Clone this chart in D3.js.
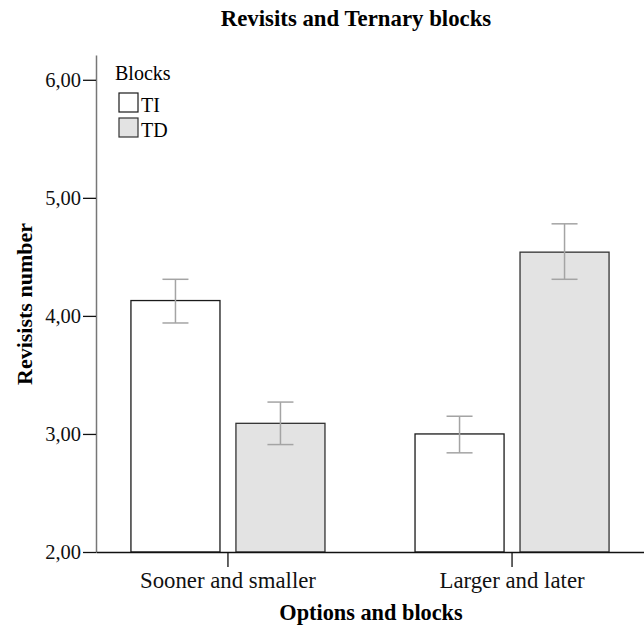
<!DOCTYPE html>
<html>
<head>
<meta charset="utf-8">
<script src="https://cdn.jsdelivr.net/npm/d3@7"></script>
<style>
  body { margin: 0; background: #fff; }
  text { font-family: "Liberation Serif", "Times New Roman", serif; }
</style>
</head>
<body>
<div id="chart"></div>
<script>
// data
const categories = ["Sooner and smaller", "Larger and later"];
const blocks = ["TI", "TD"];
const means = {
	"Sooner and smaller": [4.13, 3.09],
	"Larger and later": [3.00, 4.54]
};
const errLow = {
	"Sooner and smaller": [3.94, 2.91],
	"Larger and later": [2.84, 4.31]
};
const errHigh = {
	"Sooner and smaller": [4.31, 3.27],
	"Larger and later": [3.15, 4.78]
};
const yTicks = [2, 3, 4, 5, 6];

const width = 644, height = 626;
const plotLeft = 96, plotRight = 644, plotTop = 55, plotBottom = 552;

const fills = d3.scaleOrdinal().domain(blocks).range(["#ffffff", "#e3e3e3"]);
const strokes = d3.scaleOrdinal().domain(blocks).range(["#1a1a1a", "#333333"]);

const svg = d3.select("#chart").append("svg")
	.attr("width", width)
	.attr("height", height);

const y = d3.scaleLinear()
	.domain([2, 6.21])
	.range([plotBottom, plotTop]);

const x0 = d3.scaleBand()
	.domain(categories)
	.range([plotLeft, plotRight])
	.paddingInner(0.317)
	.paddingOuter(0.123);

const x1 = d3.scaleBand()
	.domain(blocks)
	.range([0, x0.bandwidth()])
	.paddingInner(0.152);

const comma = d3.formatLocale({decimal: ",", thousands: ".", grouping: [3], currency: ["", ""]}).format(".2f");

// bars
const groups = svg.append("g")
	.selectAll("g")
	.data(categories)
	.join("g")
	.attr("transform", d => `translate(${x0(d)},0)`);

groups.selectAll("rect")
	.data(c => blocks.map((b, i) => ({cat: c, block: b, value: means[c][i]})))
	.join("rect")
	.attr("x", d => x1(d.block))
	.attr("y", d => y(d.value))
	.attr("width", x1.bandwidth())
	.attr("height", d => y(2) - y(d.value))
	.attr("fill", d => fills(d.block))
	.attr("stroke", d => strokes(d.block))
	.attr("stroke-width", 1.3);

// error bars
const err = groups.selectAll("g.err")
	.data(c => blocks.map((b, i) => ({block: b, lo: errLow[c][i], hi: errHigh[c][i]})))
	.join("g")
	.attr("class", "err")
	.attr("transform", d => `translate(${x1(d.block) + x1.bandwidth() / 2},0)`)
	.attr("stroke", "#a4a4a4")
	.attr("stroke-width", 1.5);

err.append("line")
	.attr("y1", d => y(d.lo))
	.attr("y2", d => y(d.hi));
err.append("line")
	.attr("x1", -13).attr("x2", 13)
	.attr("y1", d => y(d.hi)).attr("y2", d => y(d.hi));
err.append("line")
	.attr("x1", -13).attr("x2", 13)
	.attr("y1", d => y(d.lo)).attr("y2", d => y(d.lo));

// y axis
const yAxis = svg.append("g")
	.attr("transform", `translate(${plotLeft},0)`)
	.call(d3.axisLeft(y).tickValues(yTicks).tickFormat(comma).tickSize(13).tickSizeOuter(0).tickPadding(2));
yAxis.select(".domain").attr("stroke", "#777").attr("stroke-width", 1.5);
yAxis.selectAll(".tick line").attr("stroke", "#111").attr("stroke-width", 1.3);
yAxis.selectAll(".tick text")
	.attr("fill", "#111")
	.style("font-size", "20.5px")
	.style("font-family", "Liberation Serif");

// x axis
const xAxis = svg.append("g")
	.attr("transform", `translate(0,${plotBottom})`)
	.call(d3.axisBottom(x0).tickSize(15).tickSizeOuter(0).tickPadding(5));
xAxis.select(".domain").attr("stroke", "#111").attr("stroke-width", 1.3);
xAxis.selectAll(".tick line").attr("stroke", "#111").attr("stroke-width", 1.3);
xAxis.selectAll(".tick text")
	.attr("fill", "#111")
	.style("font-size", "22.8px")
	.style("font-family", "Liberation Serif");

// titles
svg.append("text")
	.attr("x", 356)
	.attr("y", 26)
	.attr("text-anchor", "middle")
	.style("font-size", "22.8px")
	.style("font-weight", "bold")
	.text("Revisits and Ternary blocks");

svg.append("text")
	.attr("x", 371)
	.attr("y", 620)
	.attr("text-anchor", "middle")
	.style("font-size", "22.3px")
	.style("font-weight", "bold")
	.text("Options and blocks");

svg.append("text")
	.attr("transform", "translate(32,304) rotate(-90)")
	.attr("text-anchor", "middle")
	.style("font-size", "22px")
	.style("font-weight", "bold")
	.text("Revisists number");

// legend
const legend = svg.append("g").attr("transform", "translate(115,80)");
legend.append("text")
	.attr("x", 0)
	.attr("y", 0)
	.style("font-size", "20px")
	.text("Blocks");

const items = legend.selectAll("g.item")
	.data(blocks)
	.join("g")
	.attr("class", "item")
	.attr("transform", (d, i) => `translate(4,${13 + i * 25})`);
items.append("rect")
	.attr("width", 19)
	.attr("height", 19)
	.attr("fill", d => fills(d))
	.attr("stroke", d => strokes(d))
	.attr("stroke-width", 1.2);
items.append("text")
	.attr("x", 22)
	.attr("y", 18.5)
	.style("font-size", "20px")
	.text(d => d);
</script>
</body>
</html>
